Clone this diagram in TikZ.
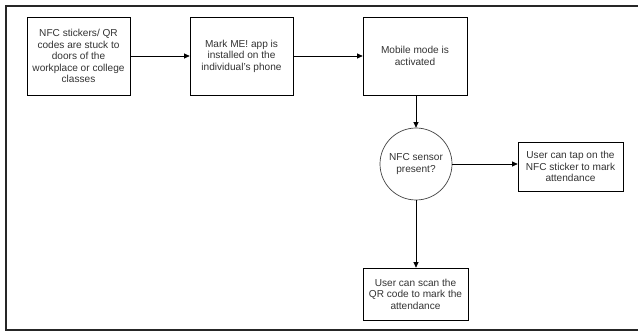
\documentclass[tikz,border=0pt]{standalone}
\usepackage{fontspec}
\setmainfont{Liberation Sans}
\usetikzlibrary{arrows.meta}
\definecolor{txt}{HTML}{333333}
\tikzset{
  stepbox/.style={draw=black, line width=0.7pt, fill=white, align=center,
    text=txt, font=\fontsize{10.1}{11.6}\selectfont, inner sep=0pt},
  decision/.style={draw=black!75, line width=0.7pt, circle, align=center,
    text=txt, font=\fontsize{10.1}{11.6}\selectfont, inner sep=0pt},
  flow/.style={draw=black, line width=0.7pt, -{Triangle[length=5.5pt,width=5pt]}},
}
\begin{document}
\begin{tikzpicture}[x=1pt, y=-1pt]
  \useasboundingbox (0,0) rectangle (638,331);
  % outer frame (open on the right side)
  \draw[line width=1.6pt, black!85] (645,6) -- (6,6) -- (6,330) -- (645,330);

  \node[stepbox, minimum width=103pt, minimum height=78pt] (stick) at (78.5,56)
    {NFC stickers/ QR\\codes are stuck to\\doors of the\\workplace or college\\classes};
  \node[stepbox, minimum width=103pt, minimum height=78pt] (app) at (241.5,56)
    {Mark ME! app is\\installed on the\\individual's phone};
  \node[stepbox, minimum width=104pt, minimum height=78pt] (mode) at (415,56)
    {Mobile mode is\\activated};
  \node[decision, minimum size=72pt] (nfc) at (416,164)
    {NFC sensor\\present?};
  \node[stepbox, minimum width=105pt, minimum height=49pt] (tap) at (570.5,166.5)
    {User can tap on the\\NFC sticker to mark\\attendance};
  \node[stepbox, minimum width=105pt, minimum height=52pt] (scan) at (415.5,294)
    {User can scan the\\QR code to mark the\\attendance};

  \draw[flow] (stick) -- (app);
  \draw[flow] (app) -- (mode);
  \draw[flow] (mode.south -| nfc.north) -- (nfc);
  \draw[flow] (nfc.east) -- (nfc.east -| tap.west);
  \draw[flow] (nfc.south) -- (nfc.south |- scan.north);
\end{tikzpicture}
\end{document}
